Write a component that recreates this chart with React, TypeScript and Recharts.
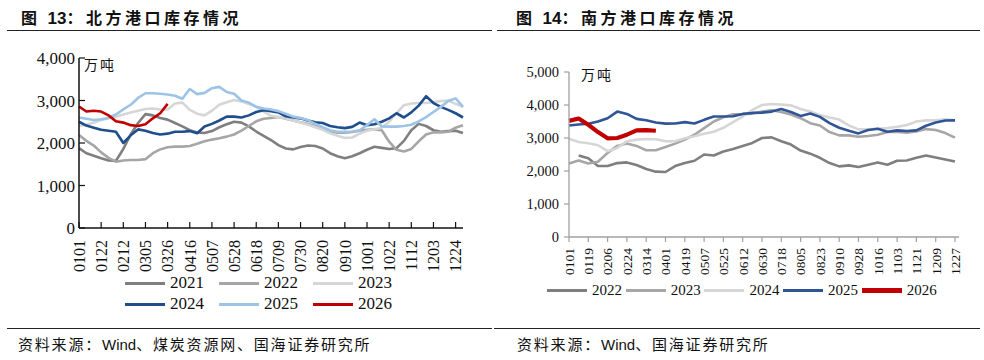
import React from 'react';
import { LineChart, Line, XAxis, YAxis } from 'recharts';

const SERIF = '"Liberation Serif", "Times New Roman", serif';
const CJK = '"Liberation Sans", "Noto Sans CJK SC", sans-serif';

// 北方港口：weekly points, 0101..1231
const northDates = [
  '0101', '0108', '0115', '0122', '0129', '0205', '0212', '0219', '0226',
  '0305', '0312', '0319', '0326', '0402', '0409', '0416', '0423', '0430',
  '0507', '0514', '0521', '0528', '0604', '0611', '0618', '0625',
  '0702', '0709', '0716', '0723', '0730', '0806', '0813', '0820', '0827',
  '0903', '0910', '0917', '0924', '1001', '1008', '1015', '1022', '1029',
  '1105', '1112', '1119', '1126', '1203', '1210', '1217', '1224', '1231',
];
const north2021 = [1880, 1760, 1700, 1640, 1590, 1580, 1860, 2200, 2470, 2680, 2650, 2590, 2550, 2470, 2390, 2300, 2250, 2235, 2280, 2370, 2440, 2500, 2480, 2390, 2270, 2170, 2070, 1950, 1870, 1850, 1905, 1940, 1930, 1870, 1760, 1690, 1640, 1690, 1760, 1840, 1910, 1885, 1860, 1880, 2050, 2300, 2450, 2400, 2300, 2265, 2280, 2290, 2235];
const north2022 = [2190, 2050, 1940, 1780, 1650, 1560, 1590, 1600, 1600, 1620, 1760, 1850, 1900, 1915, 1915, 1930, 1980, 2040, 2080, 2110, 2150, 2200, 2290, 2400, 2510, 2570, 2590, 2610, 2570, 2530, 2490, 2450, 2400, 2330, 2265, 2240, 2240, 2260, 2290, 2310, 2320, 2300, 2030, 1840, 1800, 1860, 2040, 2200, 2250, 2250, 2265, 2360, 2420];
const north2023 = [2400, 2430, 2480, 2540, 2580, 2620, 2670, 2720, 2760, 2800, 2810, 2790, 2790, 2930, 2950, 2780, 2690, 2650, 2760, 2900, 2960, 3010, 2980, 2920, 2850, 2740, 2640, 2610, 2580, 2530, 2480, 2430, 2370, 2310, 2230, 2170, 2120, 2130, 2220, 2290, 2320, 2360, 2500, 2700, 2890, 2930, 2940, 2940, 2960, 2990, 3000, 2920, 2850];
const north2024 = [2500, 2410, 2360, 2310, 2290, 2265, 2000, 2180, 2320, 2290, 2235, 2200, 2220, 2265, 2265, 2280, 2230, 2390, 2450, 2530, 2620, 2620, 2600, 2650, 2730, 2770, 2750, 2720, 2630, 2600, 2580, 2530, 2490, 2470, 2400, 2370, 2350, 2380, 2480, 2420, 2440, 2500, 2580, 2700, 2600, 2720, 2880, 3100, 2940, 2850, 2780, 2700, 2600];
const north2025 = [2600, 2570, 2540, 2560, 2590, 2670, 2790, 2900, 3060, 3170, 3170, 3160, 3140, 3110, 3040, 3270, 3150, 3180, 3290, 3320, 3200, 3160, 3000, 2950, 2850, 2810, 2790, 2750, 2690, 2620, 2590, 2540, 2450, 2370, 2300, 2265, 2265, 2270, 2300, 2420, 2560, 2390, 2385, 2385, 2400, 2430, 2510, 2610, 2730, 2850, 2990, 3050, 2850];
const north2026 = [2860, 2740, 2760, 2740, 2650, 2510, 2480, 2420, 2400, 2440, 2580, 2700, 2920];
const northTicks = [0, 1000, 2000, 3000, 4000];

// 南方港口：points every 9 days, 0101..1227
const southDates = [
  '0101', '0110', '0119', '0128', '0206', '0215', '0224', '0305', '0314', '0323',
  '0401', '0410', '0419', '0428', '0507', '0516', '0525', '0603', '0612', '0621',
  '0630', '0709', '0718', '0727', '0805', '0814', '0823', '0901', '0910', '0919',
  '0928', '1007', '1016', '1025', '1103', '1112', '1121', '1130', '1209', '1218', '1227',
];
const south2022 = [null, 2470, 2390, 2150, 2150, 2240, 2260, 2180, 2060, 1980, 1970, 2150, 2240, 2310, 2500, 2470, 2590, 2670, 2760, 2850, 3000, 3020, 2900, 2800, 2620, 2525, 2400, 2240, 2140, 2170, 2120, 2190, 2260, 2190, 2310, 2320, 2400, 2470, 2410, 2350, 2290];
const south2023 = [2225, 2320, 2230, 2280, 2550, 2760, 2830, 2760, 2630, 2630, 2730, 2830, 2950, 3100, 3300, 3500, 3630, 3720, 3720, 3740, 3800, 3840, 3790, 3710, 3600, 3450, 3380, 3180, 3080, 3080, 3040, 3060, 3100, 3180, 3180, 3160, 3200, 3270, 3240, 3150, 3010];
const south2024 = [2980, 2880, 2840, 2780, 2600, 2700, 2900, 2950, 2970, 2960, 2900, 2900, 2990, 3050, 3130, 3190, 3310, 3480, 3650, 3850, 4000, 4030, 4010, 3990, 3880, 3800, 3700, 3620, 3560, 3380, 3260, 3260, 3280, 3300, 3340, 3390, 3500, 3535, 3540, 3565, 3540];
const south2025 = [3380, 3410, 3430, 3500, 3600, 3800, 3730, 3580, 3540, 3470, 3435, 3440, 3480, 3440, 3550, 3650, 3650, 3660, 3730, 3760, 3770, 3800, 3880, 3790, 3670, 3740, 3640, 3450, 3310, 3220, 3140, 3240, 3280, 3190, 3230, 3210, 3230, 3370, 3470, 3530, 3535];
const south2026 = [3520, 3590, 3400, 3180, 2990, 3000, 3100, 3230, 3240, 3220];
const southTicks = [0, 1000, 2000, 3000, 4000, 5000];

const northSeries = [
  { key: 'y2021', name: '2021', values: north2021, color: '#7f7f7f', width: 2.6 },
  { key: 'y2022', name: '2022', values: north2022, color: '#a6a6a6', width: 2.6 },
  { key: 'y2023', name: '2023', values: north2023, color: '#d6d6d6', width: 2.6 },
  { key: 'y2024', name: '2024', values: north2024, color: '#1f4e8c', width: 2.6 },
  { key: 'y2025', name: '2025', values: north2025, color: '#9dc3e6', width: 2.6 },
  { key: 'y2026', name: '2026', values: north2026, color: '#c00000', width: 2.6 },
];

const southSeries = [
  { key: 'y2022', name: '2022', values: south2022, color: '#7f7f7f', width: 2.6 },
  { key: 'y2023', name: '2023', values: south2023, color: '#a6a6a6', width: 2.6 },
  { key: 'y2024', name: '2024', values: south2024, color: '#d6d6d6', width: 2.6 },
  { key: 'y2025', name: '2025', values: south2025, color: '#2f5597', width: 2.6 },
  { key: 'y2026', name: '2026', values: south2026, color: '#c00000', width: 4.2 },
];

const buildRows = (dates: string[], series: any[]) =>
  dates.map((d, i) => {
    const row: any = { d };
    series.forEach((s) => {
      const v = s.values[i];
      row[s.key] = v === undefined ? null : v;
    });
    return row;
  });

const northData = buildRows(northDates, northSeries);
const southData = buildRows(southDates, southSeries);

const fmt = (v: number) => v.toLocaleString('en-US');

const RotTick = (props: any) => {
  const { x, y, payload, fontSize } = props;
  return (
    <text
      transform={`translate(${x},${y}) rotate(-90)`}
      textAnchor="end"
      dy="0.36em"
      fontSize={fontSize}
      fontFamily={SERIF}
      fill="#111"
    >
      {payload.value}
    </text>
  );
};

const Rule = ({ left, width, top }: any) => (
  <div style={{ position: 'absolute', left, top, width, borderTop: '1.4px solid #222' }} />
);

const Title = ({ left, num, text }: any) => (
  <div style={{ position: 'absolute', left, top: 5, fontSize: 16, fontWeight: 700, fontFamily: CJK, color: '#111', whiteSpace: 'nowrap' }}>
    <span style={{ letterSpacing: 3 }}>图 </span>
    <span style={{ fontSize: 17 }}>{num}</span>
    <span style={{ letterSpacing: 3.5 }}>：{text}</span>
  </div>
);

const Source = ({ left, text }: any) => (
  <div style={{ position: 'absolute', left, top: 333, fontSize: 15, letterSpacing: 1.8, fontFamily: CJK, color: '#111', whiteSpace: 'nowrap' }}>
    资料来源：<span style={{ letterSpacing: 0 }}>Wind</span>{text}
  </div>
);

const LegendKey = ({ left, top, color, label, fontSize, thick }: any) => (
  <div style={{ position: 'absolute', left, top, height: 20, display: 'flex', alignItems: 'center' }}>
    <div style={{ width: 40, height: thick, background: color }} />
    <span style={{ marginLeft: 5, fontSize, fontFamily: SERIF, color: '#111' }}>{label}</span>
  </div>
);

const NorthPanel = () => (
  <div style={{ position: 'absolute', left: 0, top: 0, width: 492, height: 360 }}>
    <Title left={21} num="13" text="北方港口库存情况" />
    <Rule left={7} width={485} top={30} />
    <div style={{ position: 'absolute', left: 0, top: 0 }}>
      <LineChart width={492} height={280} data={northData} margin={{ top: 58, right: 29, bottom: 0, left: 0 }}>
        <XAxis
          dataKey="d"
          interval={2}
          height={52}
          tickSize={-6}
          tickMargin={18}
          axisLine={{ stroke: '#111', strokeWidth: 1.5 }}
          tickLine={{ stroke: '#111', strokeWidth: 1.2 }}
          tick={(p: any) => <RotTick {...p} fontSize={16} />}
        />
        <YAxis
          domain={[0, 4000]}
          ticks={northTicks}
          width={79}
          tickSize={-6}
          tickMargin={10}
          tickFormatter={fmt}
          axisLine={{ stroke: '#111', strokeWidth: 1.5 }}
          tickLine={{ stroke: '#111', strokeWidth: 1.2 }}
          tick={{ fontSize: 17, fill: '#111', fontFamily: SERIF }}
        />
        {northSeries.map((s) => (
          <Line
            key={s.key}
            dataKey={s.key}
            stroke={s.color}
            strokeWidth={s.width}
            dot={false}
            isAnimationActive={false}
            strokeLinejoin="round"
          />
        ))}
      </LineChart>
    </div>
    <div style={{ position: 'absolute', left: 84, top: 54, fontSize: 14, letterSpacing: 2, fontFamily: '"Noto Sans CJK SC", sans-serif', color: '#111' }}>
      万吨
    </div>
    {northSeries.map((s, i) => (
      <LegendKey
        key={s.key}
        left={125 + (i % 3) * 94}
        top={i < 3 ? 273 : 294}
        color={s.color}
        label={s.name}
        fontSize={17}
        thick={3}
      />
    ))}
    <Rule left={7} width={485} top={328} />
    <Source left={18} text="、煤炭资源网、国海证券研究所" />
  </div>
);

const SouthPanel = () => (
  <div style={{ position: 'absolute', left: 492, top: 0, width: 492, height: 360 }}>
    <Title left={24} num="14" text="南方港口库存情况" />
    <Rule left={5} width={483} top={30} />
    <div style={{ position: 'absolute', left: 0, top: 0 }}>
      <LineChart width={492} height={280} data={southData} margin={{ top: 72, right: 25, bottom: 0, left: 0 }}>
        <XAxis
          dataKey="d"
          interval={1}
          height={43}
          tickSize={5}
          tickMargin={6}
          padding={{ left: 0, right: 4 }}
          axisLine={{ stroke: '#a0a0a0', strokeWidth: 1.3 }}
          tickLine={{ stroke: '#a0a0a0', strokeWidth: 1.2 }}
          tick={(p: any) => <RotTick {...p} fontSize={13.5} />}
        />
        <YAxis
          domain={[0, 5000]}
          ticks={southTicks}
          width={77}
          tickSize={5}
          tickMargin={5}
          tickFormatter={fmt}
          axisLine={{ stroke: '#a0a0a0', strokeWidth: 1.3 }}
          tickLine={{ stroke: '#a0a0a0', strokeWidth: 1.2 }}
          tick={{ fontSize: 14.5, fill: '#111', fontFamily: SERIF }}
        />
        {southSeries.map((s) => (
          <Line
            key={s.key}
            dataKey={s.key}
            stroke={s.color}
            strokeWidth={s.width}
            dot={false}
            isAnimationActive={false}
            strokeLinejoin="round"
          />
        ))}
      </LineChart>
    </div>
    <div style={{ position: 'absolute', left: 89, top: 64, fontSize: 14, letterSpacing: 2, fontFamily: '"Noto Sans CJK SC", sans-serif', color: '#111' }}>
      万吨
    </div>
    {southSeries.map((s, i) => (
      <LegendKey
        key={s.key}
        left={55 + i * 78.7}
        top={280}
        color={s.color}
        label={s.name}
        fontSize={15}
        thick={s.name === '2026' ? 5 : 3}
      />
    ))}
    <Rule left={2} width={486} top={328} />
    <Source left={25} text="、国海证券研究所" />
  </div>
);

export default function App() {
  return (
    <div style={{ position: 'absolute', left: 0, top: 0, width: 984, height: 360, background: '#fff', overflow: 'hidden' }}>
      <NorthPanel />
      <SouthPanel />
    </div>
  );
}
